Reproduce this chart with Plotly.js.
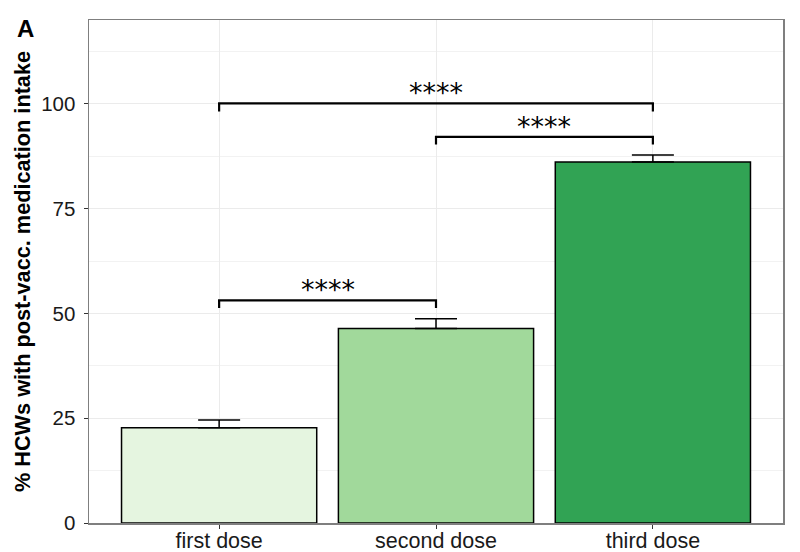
<!DOCTYPE html>
<html><head><meta charset="utf-8">
<script src="https://cdn.plot.ly/plotly-3.0.1.min.js"></script>
<style>body{margin:0;background:#fff}#c{width:800px;height:552px}</style>
</head><body><div id="c"></div>
<script>
const categories = ["first dose", "second dose", "third dose"];
const xpos = [1, 2, 3];
const values = [22.7, 46.4, 86.1];
const errUpper = [1.9, 2.3, 1.7];
const colors = ["#e5f5e0", "#a1d99b", "#31a354"];
// significance brackets
const bracketFrom = [1, 2, 1];
const bracketTo = [2, 3, 3];
const bracketY = [53.1, 92.1, 100.1];
const bracketTip = [51.3, 90.3, 98.2];
const bracketLabel = ["****", "****", "****"];

const FONT = "Liberation Sans, Arial, sans-serif";
const traces = [{
  type: "bar", x: xpos, y: values, width: 0.9,
  marker: {color: colors, line: {color: "#000", width: 1.5}},
  error_y: {type: "data", array: errUpper, arrayminus: values.map(() => 0), visible: true, color: "#000", thickness: 1.5, width: 21},
  hoverinfo: "skip", showlegend: false
}];
for (let i = 0; i < bracketFrom.length; i++) {
  traces.push({
    type: "scatter", mode: "lines",
    x: [bracketFrom[i], bracketFrom[i], bracketTo[i], bracketTo[i]],
    y: [bracketTip[i], bracketY[i], bracketY[i], bracketTip[i]],
    line: {color: "#000", width: 2.2}, showlegend: false, hoverinfo: "skip"
  });
}
const annotations = bracketLabel.map((t, i) => ({
  x: (bracketFrom[i] + bracketTo[i]) / 2, y: bracketY[i], xref: "x", yref: "y",
  text: t, showarrow: false, yanchor: "bottom", yshift: -7,
  font: {family: "DejaVu Sans, sans-serif", size: 27, color: "#000"}
}));
annotations.push({
  xref: "paper", yref: "paper", x: -0.106, y: 1, xanchor: "left", yanchor: "top", yshift: 7,
  text: "<b>A</b>", showarrow: false,
  font: {family: FONT, size: 24, color: "#000"}
});

const layout = {
  width: 800, height: 552,
  margin: {l: 89, r: 17, t: 20, b: 29},
  paper_bgcolor: "#fff", plot_bgcolor: "#fff",
  font: {family: FONT, color: "#1a1a1a"},
  xaxis: {
    range: [0.4, 3.6], tickvals: xpos, ticktext: categories,
    showgrid: true, gridcolor: "#ebebeb", gridwidth: 1,
    ticks: "outside", ticklen: 4, tickcolor: "#333", tickwidth: 1,
    tickfont: {size: 21.5, color: "#1a1a1a"}, ticklabelstandoff: -6,
    showline: true, linecolor: "#7f7f7f", linewidth: 1.5, mirror: true, zeroline: false
  },
  yaxis: {
    range: [0, 120], tickvals: [0, 25, 50, 75, 100],
    showgrid: true, gridcolor: "#ebebeb", gridwidth: 1.2,
    minor: {tickvals: [12.5, 37.5, 62.5, 87.5, 112.5], showgrid: true, gridcolor: "#f2f2f2", gridwidth: 1, ticks: ""},
    ticks: "outside", ticklen: 4, tickcolor: "#333", tickwidth: 1,
    tickfont: {size: 20.5, color: "#1a1a1a"}, ticklabelstandoff: 4,
    showline: true, linecolor: "#7f7f7f", linewidth: 1.5, mirror: true, zeroline: false,
    title: {text: "<b>% HCWs with post-vacc. medication intake</b>", font: {size: 21.7, color: "#000"}, standoff: 4}
  },
  annotations: annotations,
  bargap: 0
};
Plotly.newPlot("c", traces, layout, {staticPlot: true});
</script></body></html>
